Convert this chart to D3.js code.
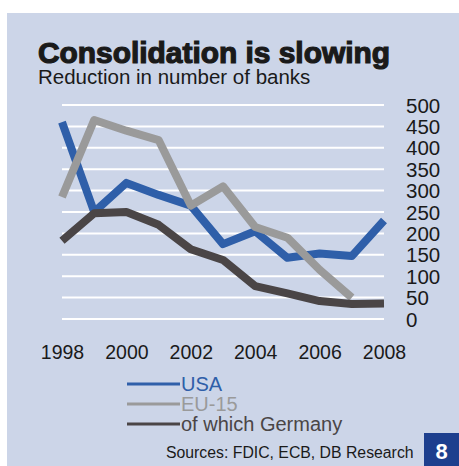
<!DOCTYPE html>
<html>
<head>
<meta charset="utf-8">
<script src="https://cdn.jsdelivr.net/npm/d3@7"></script>
<style>
  html, body { margin: 0; padding: 0; background: #ffffff; }
  svg { display: block; }
  text { font-family: "Liberation Sans", Arial, sans-serif; }
</style>
</head>
<body>
<svg id="chart" width="459" height="466"></svg>
<script>
// Reduction in number of banks per year
const years = [1998, 1999, 2000, 2001, 2002, 2003, 2004, 2005, 2006, 2007, 2008];
const usa = [460, 250, 318, 290, 265, 175, 205, 143, 153, 147, 230];
const eu15 = [285, 465, 440, 418, 265, 310, 215, 190, 115, 50, null];
const germany = [183, 247, 250, 220, 163, 138, 77, 60, 42, 35, 36];
const yTicks = [0, 50, 100, 150, 200, 250, 300, 350, 400, 450, 500];
const xTicks = [1998, 2000, 2002, 2004, 2006, 2008];

const seriesList = [
  { name: "USA", values: usa, color: "#2f5fa9" },
  { name: "EU-15", values: eu15, color: "#9a9a9a" },
  { name: "of which Germany", values: germany, color: "#4a4546" }
];

const svg = d3.select("#chart");

// panel background
svg.append("rect")
  .attr("x", 7).attr("y", 13)
  .attr("width", 452).attr("height", 453)
  .attr("fill", "#ccd5e8");

const x = d3.scaleLinear().domain([1998, 2008]).range([62, 384]);
const y = d3.scaleLinear().domain([0, 500]).range([319, 105]);

// title block
svg.append("text")
  .attr("x", 38).attr("y", 63)
  .attr("font-size", 29)
  .attr("font-weight", 900)
  .attr("fill", "#1a1a1a")
  .attr("stroke", "#1a1a1a").attr("stroke-width", 1.2)
  .attr("textLength", 352).attr("lengthAdjust", "spacingAndGlyphs")
  .text("Consolidation is slowing");

svg.append("text")
  .attr("x", 38).attr("y", 83.5)
  .attr("font-size", 20.5)
  .attr("fill", "#1a1a1a")
  .text("Reduction in number of banks");

// horizontal gridlines
svg.append("g")
  .selectAll("line")
  .data(yTicks)
  .join("line")
  .attr("x1", x(1998)).attr("x2", x(2008))
  .attr("y1", d => y(d)).attr("y2", d => y(d))
  .attr("stroke", "#ffffff").attr("stroke-width", 2);

// right-hand value axis
const yAxis = d3.axisRight(y).tickValues(yTicks).tickSize(0).tickPadding(0);
const yg = svg.append("g").attr("transform", "translate(406,0)").call(yAxis);
yg.select(".domain").remove();
yg.selectAll("text")
  .attr("font-size", 20.5)
  .attr("font-family", "Liberation Sans, Arial, sans-serif")
  .attr("fill", "#1a1a1a")
  .attr("dy", "0.35em");

// year axis
const xAxis = d3.axisBottom(x).tickValues(xTicks).tickFormat(d3.format("d")).tickSize(0).tickPadding(0);
const xg = svg.append("g").attr("transform", "translate(0,345)").call(xAxis);
xg.select(".domain").remove();
xg.selectAll("text")
  .attr("font-size", 19.5)
  .attr("font-family", "Liberation Sans, Arial, sans-serif")
  .attr("fill", "#1a1a1a")
  .attr("dy", "0.71em");

// series lines
const line = d3.line()
  .defined(d => d[1] != null)
  .x(d => x(d[0]))
  .y(d => y(d[1]));

svg.append("g")
  .selectAll("path")
  .data(seriesList)
  .join("path")
  .attr("d", s => line(years.map((yr, i) => [yr, s.values[i]])))
  .attr("fill", "none")
  .attr("stroke", s => s.color)
  .attr("stroke-width", 8)
  .attr("stroke-linejoin", "round")
  .attr("stroke-linecap", "butt");

// legend
const legend = svg.append("g")
  .selectAll("g")
  .data(seriesList)
  .join("g")
  .attr("transform", (d, i) => `translate(127,${384 + i * 20})`);
legend.append("line")
  .attr("x1", 0).attr("x2", 53)
  .attr("stroke", d => d.color).attr("stroke-width", 3);
legend.append("text")
  .attr("x", 54).attr("dy", "0.36em")
  .attr("font-size", 20)
  .attr("fill", d => d.color)
  .text(d => d.name);

// source note
svg.append("text")
  .attr("x", 166).attr("y", 458)
  .attr("font-size", 15.8)
  .attr("fill", "#1a1a1a")
  .text("Sources: FDIC, ECB, DB Research");

// page number badge
svg.append("rect")
  .attr("x", 424).attr("y", 433)
  .attr("width", 35).attr("height", 33)
  .attr("fill", "#1d3f8e");
svg.append("text")
  .attr("x", 441.5).attr("y", 459)
  .attr("text-anchor", "middle")
  .attr("font-size", 22)
  .attr("font-weight", "bold")
  .attr("fill", "#ffffff")
  .text("8");
</script>
</body>
</html>
